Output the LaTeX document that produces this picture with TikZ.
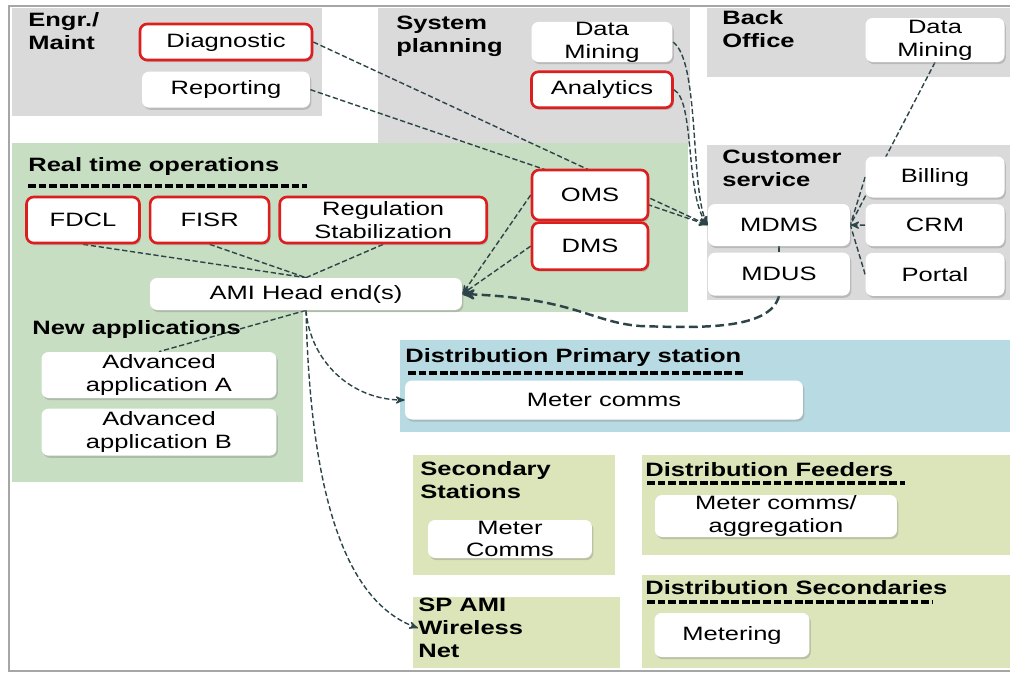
\documentclass[tikz,border=0pt]{standalone}
\usepackage{fontspec}
\setmainfont{Liberation Sans}[FakeStretch=1.32]
\usepackage{tikz}
\usetikzlibrary{positioning, arrows, shadows}
\definecolor{panelgray}{RGB}{218,218,218}
\definecolor{panelgreen}{RGB}{199,222,194}
\definecolor{panelblue}{RGB}{184,218,226}
\definecolor{panelolive}{RGB}{220,229,186}
\definecolor{alertred}{RGB}{220,30,30}
\definecolor{linkcol}{RGB}{45,68,72}
\pgfdeclarelayer{panels}
\pgfdeclarelayer{links}
\pgfsetlayers{panels,links,main}
\tikzset{
>=stealth', % small bold arrow heads
every node/.style={font=\fontsize{11}{13}\selectfont},
box/.style={fill=white, rounded corners=4pt, align=center, inner xsep=2pt, inner ysep=0pt,
  drop shadow={shadow xshift=0.8pt, shadow yshift=-1.2pt, opacity=0.35}}, % plain white box
alert/.style={box, draw=alertred, line width=1.5pt}, % red framed box
heading/.style={font=\fontsize{11}{13}\selectfont\bfseries, align=left, anchor=north west, inner sep=0pt},
link/.style={draw=linkcol, line width=0.8pt, dash pattern=on 3pt off 1.5pt}, % dashed connector
bus/.style={link, line width=1.4pt, dash pattern=on 5pt off 2.5pt},
headrule/.style={draw=black, line width=1.8pt, dash pattern=on 4.5pt off 1.5pt},
}
\begin{document}
\begin{tikzpicture}[x=0.02cm, y=-0.02cm]
\useasboundingbox (0,0) rectangle (1010,677);

% headings
\node[heading] (engrT) at (28,12) {Engr./\\Maint};
\node[heading] (sysT) at (396,16) {System\\planning};
\node[heading] (backT) at (722,10) {Back\\Office};
\node[heading] (custT) at (722,150) {Customer\\service};
\node[heading] (rtT) at (28,157) {Real time operations};
\node[heading] (newT) at (32,320) {New applications};
\node[heading] (primT) at (405,348) {Distribution Primary station};
\node[heading] (secT) at (420,461) {Secondary\\Stations};
\node[heading] (spami) at (418,598) {SP AMI\\Wireless\\Net};
\node[heading] (feedT) at (645,462) {Distribution Feeders};
\node[heading] (dsecT) at (645,580) {Distribution Secondaries};

% boxes
\node[alert, minimum width=3.44cm, minimum height=0.72cm] (diag) at (226,42) {Diagnostic};
\node[box, minimum width=3.36cm, minimum height=0.72cm, below=0.2cm of diag] (report) {Reporting};
\node[box, minimum width=2.82cm, minimum height=0.8cm] (dmA) at (602,42) {Data\\Mining};
\node[alert, minimum width=2.82cm, minimum height=0.72cm, below=0.16cm of dmA] (analytics) {Analytics};
\node[box, minimum width=2.78cm, minimum height=0.88cm] (dmB) at (935,40) {Data\\Mining};
\node[box, minimum width=2.78cm, minimum height=0.82cm] (billing) at (935,177) {Billing};
\node[box, minimum width=2.78cm, minimum height=0.84cm, below=0.12cm of billing] (crm) {CRM};
\node[box, minimum width=2.78cm, minimum height=0.86cm, below=0.12cm of crm] (portal) {Portal};
\node[box, minimum width=2.84cm, minimum height=0.84cm] (mdms) at (779,225) {MDMS};
\node[box, minimum width=2.84cm, minimum height=0.86cm, below=0.12cm of mdms] (mdus) {MDUS};
\node[alert, minimum width=2.26cm, minimum height=0.92cm] (fdcl) at (83,220) {FDCL};
\node[alert, minimum width=2.38cm, minimum height=0.92cm, right=0.16cm of fdcl] (fisr) {FISR};
\node[alert, minimum width=4.14cm, minimum height=0.92cm, right=0.16cm of fisr] (regstab) {Regulation\\Stabilization};
\node[box, minimum width=6.24cm, minimum height=0.64cm] (ami) at (306,294) {AMI Head end(s)};
\node[alert, minimum width=2.32cm, minimum height=1cm] (oms) at (590,195) {OMS};
\node[alert, minimum width=2.32cm, minimum height=0.94cm, below=0cm of oms] (dms) {DMS};
\node[box, minimum width=4.7cm, minimum height=0.92cm] (advA) at (159,375) {Advanced\\application A};
\node[box, minimum width=4.7cm, minimum height=0.94cm, below=0.2cm of advA] (advB) {Advanced\\application B};
\node[box, minimum width=7.96cm, minimum height=0.78cm] (mcP) at (604,400) {Meter comms};
\node[box, minimum width=3.28cm, minimum height=0.76cm] (mcS) at (510,539) {Meter\\Comms};
\node[box, minimum width=4.84cm, minimum height=0.84cm] (mcF) at (776,516) {Meter comms/\\aggregation};
\node[box, minimum width=3.1cm, minimum height=0.88cm] (metering) at (732,635) {Metering};

% heading rules
\draw[headrule] (28,186) -- (307,186);
\draw[headrule] (408,373) -- (745,373);
\draw[headrule] (647,483) -- (905,483);
\draw[headrule] (647,602) -- (933,602);

\begin{pgfonlayer}{panels}
\fill[panelgray] (12,8) rectangle (322,116);
\fill[panelgray] (378,8) rectangle (690,143);
\fill[panelgray] (707,8) rectangle (1010,77);
\fill[panelgray] (707,145) rectangle (1010,300);
\fill[panelgreen] (12,143) rectangle (688,312);
\fill[panelgreen] (12,312) rectangle (303,482);
\fill[panelblue] (400,340) rectangle (1010,432);
\fill[panelolive] (413,455) rectangle (615,575);
\fill[panelolive] (413,597) rectangle (620,668);
\fill[panelolive] (642,455) rectangle (1010,555);
\fill[panelolive] (642,575) rectangle (1010,668);
\draw[gray!70, line width=1.2pt] (1010,6) -- (9,6) -- (9,671) -- (1010,671);
\end{pgfonlayer}

\begin{pgfonlayer}{links}
\draw[link, ->] (diag.east) -- (mdms.west);
\draw[link, ->] (report.east) -- (mdms.west);
\draw[link, ->] (dmA.east) .. controls (700,60) and (690,190) .. (mdms.west);
\draw[link, ->] (analytics.east) .. controls (695,100) and (685,195) .. (mdms.west);
\draw[link] (dmB.south) -- (mdms.east);
\draw[link] (billing.west) -- (mdms.east);
\draw[link, ->] (crm.west) -- (mdms.east);
\draw[link] (portal.west) -- (mdms.east);
\draw[link] (mdms.south) -- (mdus.north);
\draw[bus, ->] (mdus.south) .. controls (770,330) and (700,328) .. (640,326)
  .. controls (590,322) and (575,298) .. (ami.east);
\draw[link, ->] (oms.west) -- (ami.east);
\draw[link, ->] (dms.west) -- (ami.east);
\draw[link] (fdcl.south) -- (ami.north);
\draw[link] (fisr.south) -- (ami.north);
\draw[link] (regstab.south) -- (ami.north);
\draw[link] (ami.south) -- (advA.north);
\draw[link, ->] (ami.south) .. controls (310,360) and (350,400) .. (mcP.west);
\draw[link, ->] (ami.south) .. controls (310,480) and (340,600) .. (spami.west);
\end{pgfonlayer}
\end{tikzpicture}
\end{document}
